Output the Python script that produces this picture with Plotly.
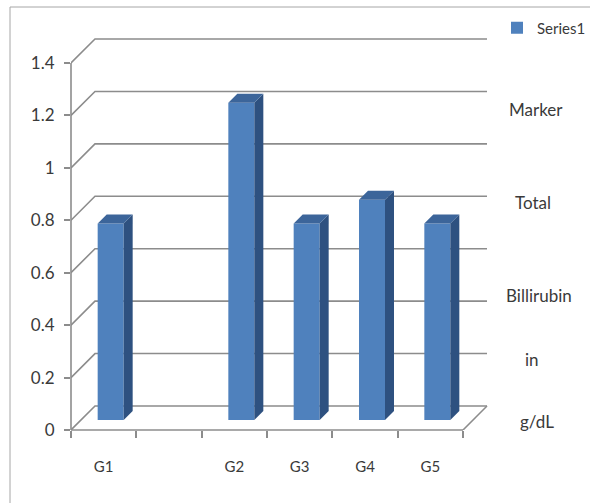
import plotly.graph_objects as go

# ---- data ----
categories = ["G1", "", "G2", "G3", "G4", "G5"]
values = [0.75, None, 1.21, 0.75, 0.84, 0.75]
y_tick_vals = [0, 0.2, 0.4, 0.6, 0.8, 1.0, 1.2, 1.4]
y_tick_text = ["0", "0.2", "0.4", "0.6", "0.8", "1", "1.2", "1.4"]
series_name = "Series1"
side_labels = ["Marker", "Total", "Billirubin", "in", "g/dL"]

# ---- geometry (pixels) ----
W, H = 590, 503
PL, PR, PT, PB = 71, 497, 30, 430          # plot area in page pixels
AX_RIGHT_PX, Y_TOP_PX = 463, 63            # front x-axis end, pixel of y=1.4
n = len(categories)
KX = (AX_RIGHT_PX - PL) / n                # px per category
KY = (PB - Y_TOP_PX) / max(y_tick_vals)    # px per y unit
xmin = -0.5
xmax = xmin + (PR - PL) / KX
ymin = 0
ymax = (PB - PT) / KY

DEPTH_X = 24 / KX      # back wall offset
DEPTH_Y = 24 / KY
BAR_W = 26 / KX
BAR_DX1, BAR_DY1 = 7 / KX, 10 / KY     # bar front face offset
BAR_DDX, BAR_DDY = 9 / KX, 9 / KY      # bar depth

FRONT = "#4F81BD"
SIDE = "#2E5180"
TOP = "#3C659A"
GRID = "#8C8C8C"
TXT = "#3a3a3a"
FONT = "Lato"

fig = go.Figure()

# front faces
xs_front = [i + BAR_DX1 for i in range(n)]
fig.add_trace(go.Bar(
    x=xs_front, y=values, base=BAR_DY1, width=BAR_W,
    marker=dict(color=FRONT, line=dict(width=0)),
    name=series_name, showlegend=True, hoverinfo="skip",
))

# side and top faces
for i, v in enumerate(values):
    if v is None:
        continue
    xl = i + BAR_DX1 - BAR_W / 2
    xr = i + BAR_DX1 + BAR_W / 2
    yb = BAR_DY1
    yt = BAR_DY1 + v
    fig.add_trace(go.Scatter(
        x=[xr, xr + BAR_DDX, xr + BAR_DDX, xr, xr],
        y=[yb, yb + BAR_DDY, yt + BAR_DDY, yt, yb],
        fill="toself", fillcolor=SIDE, mode="lines", line=dict(width=0),
        showlegend=False, hoverinfo="skip"))
    fig.add_trace(go.Scatter(
        x=[xl, xr, xr + BAR_DDX, xl + BAR_DDX, xl],
        y=[yt, yt, yt + BAR_DDY, yt + BAR_DDY, yt],
        fill="toself", fillcolor=TOP, mode="lines", line=dict(width=0),
        showlegend=False, hoverinfo="skip"))

shapes = []
x_left, x_right = -0.5, n - 0.5
for v in y_tick_vals:
    shapes.append(dict(type="path", xref="x", yref="y", layer="below",
                       path=f"M {x_left},{v} L {x_left + DEPTH_X},{v + DEPTH_Y} L {x_right + DEPTH_X},{v + DEPTH_Y}",
                       line=dict(color=GRID, width=1.6)))
# floor right edge
shapes.append(dict(type="line", xref="x", yref="y", layer="below",
                   x0=x_right, y0=0, x1=x_right + DEPTH_X, y1=DEPTH_Y,
                   line=dict(color=GRID, width=1.6)))
# front x axis line
shapes.append(dict(type="line", xref="x", yref="paper", layer="below",
                   x0=x_left, y0=0, x1=x_right, y1=0,
                   line=dict(color=GRID, width=1.6)))
# y axis line
shapes.append(dict(type="line", xref="paper", yref="y", layer="below",
                   x0=0, y0=0, x1=0, y1=max(y_tick_vals),
                   line=dict(color=GRID, width=1.6)))

# outer frame (page pixels -> paper coords)
def px_x(px):
    return (px - PL) / (PR - PL)

def px_y(py):
    return (PB - py) / (PB - PT)

shapes.append(dict(type="line", xref="paper", yref="paper",
                   x0=px_x(10), y0=px_y(7), x1=px_x(600), y1=px_y(7),
                   line=dict(color="#A6A6A6", width=1)))
shapes.append(dict(type="line", xref="paper", yref="paper",
                   x0=px_x(10), y0=px_y(7), x1=px_x(10), y1=px_y(510),
                   line=dict(color="#A6A6A6", width=1)))

# right-hand labels
label_pos = [(536, 110), (533, 202), (539, 295), (532, 359), (537, 421)]
annotations = []
for t, (ax, ay) in zip(side_labels, label_pos):
    annotations.append(dict(text=t, xref="paper", yref="paper",
                            x=px_x(ax), y=px_y(ay), xanchor="center", yanchor="middle",
                            showarrow=False, font=dict(family=FONT, size=17, color=TXT)))

fig.update_layout(
    width=W, height=H,
    margin=dict(l=PL, r=W - PR, t=PT, b=H - PB, pad=0, autoexpand=False),
    paper_bgcolor="white", plot_bgcolor="white",
    shapes=shapes, annotations=annotations,
    showlegend=True,
    legend=dict(x=px_x(497), y=px_y(28), xanchor="left", yanchor="middle",
                font=dict(family=FONT, size=15, color=TXT),
                bgcolor="rgba(0,0,0,0)", itemwidth=30, borderwidth=0),
    xaxis=dict(range=[xmin, xmax], showgrid=False, zeroline=False, showline=False,
               tickmode="array", tickvals=list(range(n)), ticktext=categories,
               ticks="", ticklabelstandoff=26,
               tickfont=dict(family=FONT, size=15, color=TXT),
               minor=dict(tickmode="array", tickvals=[i - 0.5 for i in range(n + 1)],
                          ticks="outside", ticklen=7, tickwidth=1.5, tickcolor=GRID,
                          showgrid=False)),
    yaxis=dict(range=[ymin, ymax], showgrid=False, zeroline=False, showline=False,
               tickmode="array", tickvals=y_tick_vals, ticktext=y_tick_text,
               ticks="outside", ticklen=6, tickwidth=1.5, tickcolor=GRID,
               ticklabelstandoff=6,
               tickfont=dict(family=FONT, size=17, color=TXT)),
)

fig.write_html("out.html")
